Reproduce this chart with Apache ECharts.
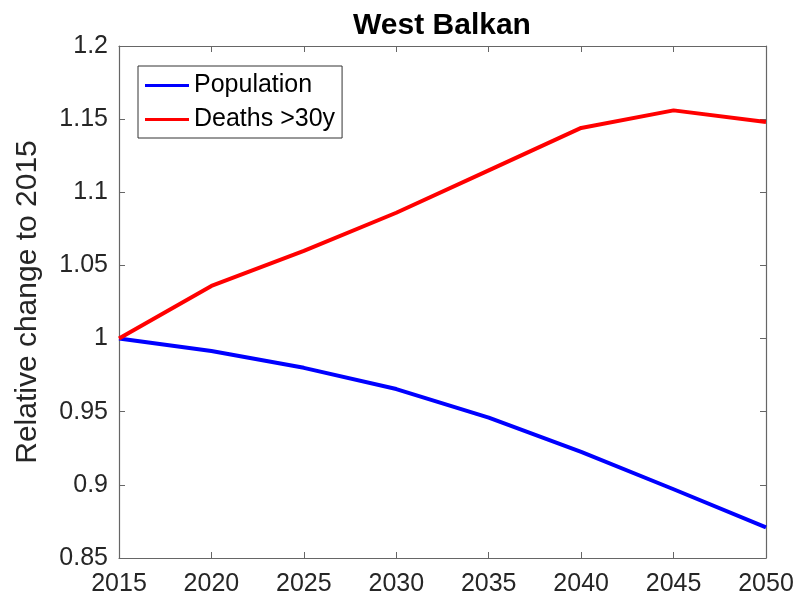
<!DOCTYPE html>
<html>
<head>
<meta charset="utf-8">
<script src="https://cdn.jsdelivr.net/npm/echarts@6/dist/echarts.min.js"></script>
<style>
  html, body { margin: 0; padding: 0; background: #fff; }
  #chart { width: 800px; height: 599px; }
</style>
</head>
<body>
<div id="chart"></div>
<script>
// Projection years and relative change (2015 = 1)
const years = [2015, 2020, 2025, 2030, 2035, 2040, 2045, 2050];
const population = [1.0, 0.9915, 0.980, 0.9655, 0.946, 0.9225, 0.897, 0.871];
const deaths30 = [1.0, 1.036, 1.060, 1.086, 1.115, 1.144, 1.156, 1.148];
const seriesNames = ['Population', 'Deaths >30y'];
const titleText = 'West Balkan';
const yAxisTitle = 'Relative change to 2015';

const FONT = 'Liberation Sans, Arial, sans-serif';
const AXIS_COLOR = '#666666';
const TEXT_COLOR = '#262626';

const pairs = arr => years.map((y, i) => [y, arr[i]]);

const chart = echarts.init(document.getElementById('chart'), null, { renderer: 'canvas' });

const xBase = {
  type: 'value', min: 2015, max: 2050, interval: 5,
  axisLine: { show: true, lineStyle: { color: AXIS_COLOR, width: 1.2 } },
  axisTick: { show: true, inside: true, length: 6, lineStyle: { color: AXIS_COLOR } },
  splitLine: { show: false }
};
const yBase = {
  type: 'value', min: 0.85, max: 1.2, interval: 0.05,
  axisLine: { show: true, lineStyle: { color: AXIS_COLOR, width: 1.2 } },
  axisTick: { show: true, inside: true, length: 6, lineStyle: { color: AXIS_COLOR } },
  splitLine: { show: false }
};

chart.setOption({
  animation: false,
  backgroundColor: '#ffffff',
  title: {
    text: titleText,
    left: 437, top: 6, textAlign: 'center',
    textStyle: { fontFamily: FONT, fontSize: 30, fontWeight: 'bold', color: '#000' }
  },
  legend: {
    data: seriesNames,
    orient: 'vertical',
    left: 138, top: 66,
    padding: [7, 7, 6, 7],
    itemGap: 9,
    itemWidth: 44, itemHeight: 3,
    icon: 'rect',
    borderColor: '#333', borderWidth: 1,
    backgroundColor: '#fff',
    textStyle: { fontFamily: FONT, fontSize: 25, color: '#000' }
  },
  grid: { left: 119, right: 34, top: 46, bottom: 41, containLabel: false },
  xAxis: [
    Object.assign({}, xBase, {
      position: 'bottom',
      axisLabel: {
        show: true, fontFamily: FONT, fontSize: 25, color: TEXT_COLOR, margin: 14,
        formatter: v => String(v)
      }
    }),
    Object.assign({}, xBase, { position: 'top', axisLabel: { show: false } })
  ],
  yAxis: [
    Object.assign({}, yBase, {
      position: 'left',
      name: yAxisTitle,
      nameLocation: 'middle',
      nameGap: 76,
      nameTextStyle: { fontFamily: FONT, fontSize: 30, color: TEXT_COLOR },
      axisLabel: {
        show: true, fontFamily: FONT, fontSize: 25, color: TEXT_COLOR, margin: 11,
        formatter: v => String(parseFloat(v.toFixed(2)))
      }
    }),
    Object.assign({}, yBase, { position: 'right', axisLabel: { show: false } })
  ],
  series: [
    {
      name: seriesNames[0], type: 'line', data: pairs(population),
      showSymbol: false, symbol: 'none',
      lineStyle: { color: '#0000ff', width: 4 }, itemStyle: { color: '#0000ff' }
    },
    {
      name: seriesNames[1], type: 'line', data: pairs(deaths30),
      showSymbol: false, symbol: 'none',
      lineStyle: { color: '#ff0000', width: 4 }, itemStyle: { color: '#ff0000' }
    }
  ]
});
</script>
</body>
</html>
